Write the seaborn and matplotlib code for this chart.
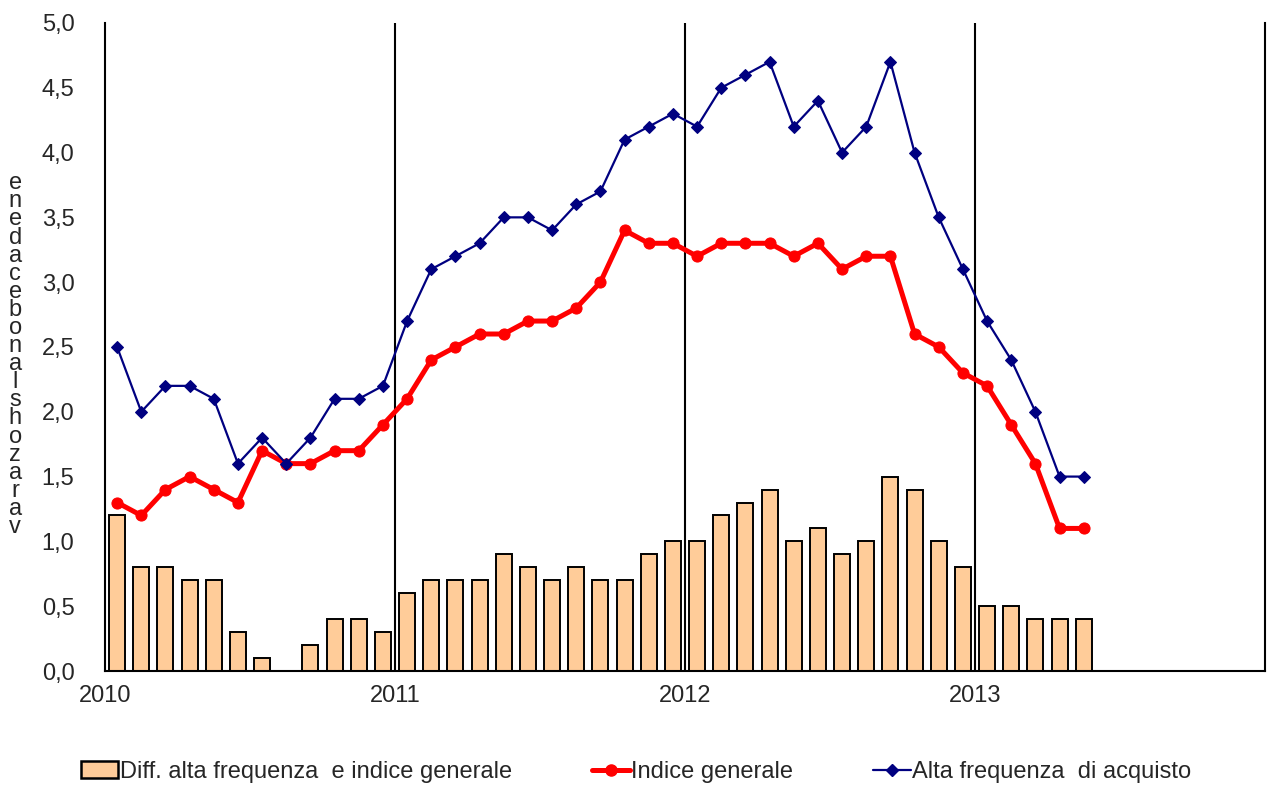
import numpy as np
import pandas as pd
import seaborn as sns
import matplotlib.pyplot as plt
from matplotlib.patches import Patch
from matplotlib.lines import Line2D

# DATA - monthly, Jan 2010 .. May 2013
years = ['2010', '2011', '2012', '2013', '']
alta_freq = [2.5, 2.0, 2.2, 2.2, 2.1, 1.6, 1.8, 1.6, 1.8, 2.1, 2.1, 2.2,
             2.7, 3.1, 3.2, 3.3, 3.5, 3.5, 3.4, 3.6, 3.7, 4.1, 4.2, 4.3,
             4.2, 4.5, 4.6, 4.7, 4.2, 4.4, 4.0, 4.2, 4.7, 4.0, 3.5, 3.1,
             2.7, 2.4, 2.0, 1.5, 1.5]
indice_gen = [1.3, 1.2, 1.4, 1.5, 1.4, 1.3, 1.7, 1.6, 1.6, 1.7, 1.7, 1.9,
              2.1, 2.4, 2.5, 2.6, 2.6, 2.7, 2.7, 2.8, 3.0, 3.4, 3.3, 3.3,
              3.2, 3.3, 3.3, 3.3, 3.2, 3.3, 3.1, 3.2, 3.2, 2.6, 2.5, 2.3,
              2.2, 1.9, 1.6, 1.1, 1.1]
diff = [1.2, 0.8, 0.8, 0.7, 0.7, 0.3, 0.1, 0.0, 0.2, 0.4, 0.4, 0.3,
        0.6, 0.7, 0.7, 0.7, 0.9, 0.8, 0.7, 0.8, 0.7, 0.7, 0.9, 1.0,
        1.0, 1.2, 1.3, 1.4, 1.0, 1.1, 0.9, 1.0, 1.5, 1.4, 1.0, 0.8,
        0.5, 0.5, 0.4, 0.4, 0.4]
ylabel_chars = list("enedacebonalshozarav")

sns.set_style("white")
plt.rcParams['font.family'] = ['Liberation Sans', 'DejaVu Sans']

df = pd.DataFrame({'pos': np.arange(len(diff)), 'diff': diff,
                   'alta': alta_freq, 'indice': indice_gen})

fig = plt.figure(figsize=(12.67, 7.91), dpi=100)
ax = fig.add_axes([0.0829, 0.1517, 0.9155, 0.8193])

sns.barplot(data=df, x='pos', y='diff', color='#FFCC99', saturation=1,
            width=0.66, edgecolor='black', linewidth=1.4, ax=ax)
sns.lineplot(data=df, x='pos', y='indice', color='#FF0000', lw=3.6,
             marker='o', markersize=8, markeredgecolor='#FF0000', ax=ax)
sns.lineplot(data=df, x='pos', y='alta', color='#000080', lw=1.6,
             marker='D', markersize=6, markeredgecolor='#000080', ax=ax)

# year separators
year_pos = [-0.5 + 12 * i for i in range(len(years))]
for p in year_pos[1:4]:
    ax.axvline(p, color='black', lw=1.5, zorder=0.5)

ax.set_xlim(-0.5, 47.5)
ax.set_ylim(0, 5)
ax.set_xticks(year_pos)
ax.set_xticklabels(years, fontsize=17)
yt = np.arange(0, 5.01, 0.5)
ax.set_yticks(yt)
ax.set_yticklabels([f"{v:.1f}".replace('.', ',') for v in yt], fontsize=17)
ax.tick_params(axis='x', direction='out', length=8, width=1.5, color='black', pad=2)
ax.tick_params(axis='y', direction='out', length=7, width=1.5, color='black', pad=15)
ax.set_xlabel('')
ax.set_ylabel('')

ax.spines['top'].set_visible(False)
for s in ['left', 'bottom', 'right']:
    ax.spines[s].set_color('black')
    ax.spines[s].set_linewidth(1.5)

# stacked y label
fig.text(0.012, 0.551, "\n".join(ylabel_chars), fontsize=17, linespacing=0.77,
         ha='center', va='center')

handles = [Patch(facecolor='#FFCC99', edgecolor='black', lw=1.8),
           Line2D([], [], color='#FF0000', lw=3.6, marker='o', markersize=8),
           Line2D([], [], color='#000080', lw=1.6, marker='D', markersize=6)]
labels = ['Diff. alta frequenza  e indice generale', 'Indice generale',
          'Alta frequenza  di acquisto']
fig.legend(handles, labels, loc='center', bbox_to_anchor=(0.502, 0.024), ncol=3,
           frameon=False, fontsize=17, handlelength=1.6, handletextpad=0.05,
           columnspacing=3.4)

plt.savefig('out.png', dpi=100)
